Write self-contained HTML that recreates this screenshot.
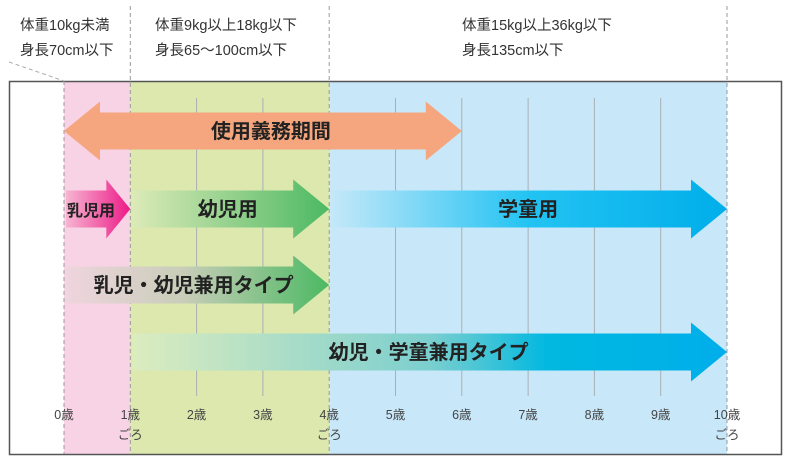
<!DOCTYPE html>
<html><head><meta charset="utf-8">
<style>
html,body{margin:0;padding:0;background:#fff;}
svg{display:block;font-family:"Liberation Sans","Noto Sans CJK JP",sans-serif;}
.lbl{font-size:14.5px;fill:#333;}
.ax{font-size:12.5px;fill:#444;}
.ar{font-weight:bold;fill:#222;}
</style></head><body>
<svg id="chart" width="792" height="465" viewBox="0 0 792 465">
<defs>
 <linearGradient id="gPink" x1="0" x2="1"><stop offset="0" stop-color="#f7b5d2"/><stop offset="1" stop-color="#ec1a87"/></linearGradient>
 <linearGradient id="gGreen" x1="0" x2="1"><stop offset="0" stop-color="#dceab8"/><stop offset="1" stop-color="#4cb963"/></linearGradient>
 <linearGradient id="gBlue" x1="0" x2="1"><stop offset="0" stop-color="#c4e8f9"/><stop offset="0.5" stop-color="#22c3f2"/><stop offset="1" stop-color="#00aeea"/></linearGradient>
 <linearGradient id="gCombo1" x1="0" x2="1"><stop offset="0" stop-color="#efd5de"/><stop offset="0.45" stop-color="#c8cdb8"/><stop offset="1" stop-color="#4cb963"/></linearGradient>
 <linearGradient id="gCombo2" x1="0" x2="1"><stop offset="0" stop-color="#dcecbf"/><stop offset="0.5" stop-color="#7ccfcf"/><stop offset="0.7" stop-color="#00b8e0"/><stop offset="1" stop-color="#00aeea"/></linearGradient>
</defs>
<g id="bands"></g>
<g id="grid"></g>
<rect x="9.5" y="81.5" width="772" height="373" fill="none" stroke="#555" stroke-width="1.5"/>
<g id="dashes"></g>
<line x1="9" y1="62" x2="64" y2="81" stroke="#aaa" stroke-dasharray="4,3"/>
<g id="arrows"></g>
<g id="axis"></g>
<g>
 <text class="lbl" x="20" y="30">体重10kg未満</text>
 <text class="lbl" x="20" y="55">身長70cm以下</text>
 <text class="lbl" x="155" y="30">体重9kg以上18kg以下</text>
 <text class="lbl" x="155" y="55">身長65～100cm以下</text>
 <text class="lbl" x="462" y="30">体重15kg以上36kg以下</text>
 <text class="lbl" x="462" y="55">身長135cm以下</text>
</g>
</svg>
<script>
const ages=[0,1,2,3,4,5,6,7,8,9,10];
const ageLabels=["0歳","1歳","2歳","3歳","4歳","5歳","6歳","7歳","8歳","9歳","10歳"];
const approxAges=[1,4,10];
const bandStart=[0,1,4];
const bandEnd=[1,4,10];
const bandColors=["#f8d3e5","#dce8ae","#c8e8fa"];
const arrowNames=["使用義務期間","乳児用","幼児用","学童用","乳児・幼児兼用タイプ","幼児・学童兼用タイプ"];
const arrowStart=[0,0,1,4,0,1];
const arrowEnd=[6,1,4,10,4,10];
const arrowRow=[0,1,1,1,2,3];
const NS="http://www.w3.org/2000/svg";
const X=a=>64+a*66.3;
const rowY=[131,209,285,352];
function mk(t,attrs,parent){const e=document.createElementNS(NS,t);for(const k in attrs)e.setAttribute(k,attrs[k]);parent.appendChild(e);return e;}
const bands=document.getElementById('bands');
for(let i=0;i<bandStart.length;i++){
 const r=mk('rect',{x:X(bandStart[i]),y:81,width:X(bandEnd[i])-X(bandStart[i]),height:373,fill:bandColors[i]},bands);
 
 
}
const grid=document.getElementById('grid');
ages.forEach(a=>{
 if(a===0||approxAges.includes(a))return;
 const l=mk('line',{x1:X(a),x2:X(a),y1:98,y2:396,stroke:'#a9b0b4','stroke-width':1},grid);
 
 
});
const dashes=document.getElementById('dashes');
[0].concat(approxAges).forEach(a=>{
 const l=mk('line',{x1:X(a),x2:X(a),y1:a===0?81:6,y2:454,stroke:'#999','stroke-dasharray':'4,3'},dashes);
 
 
});
const fills=["#f5a67e","url(#gPink)","url(#gGreen)","url(#gBlue)","url(#gCombo1)","url(#gCombo2)"];
const arrows=document.getElementById('arrows');
for(let i=0;i<arrowNames.length;i++){
 const x0=X(arrowStart[i]),x1=X(arrowEnd[i]),cy=rowY[arrowRow[i]];
 const bh=18.5,hh=29.5,hw=i===1?24:36;
 let d;
 if(i===0){
  d=`M${x0},${cy} L${x0+hw},${cy-hh} L${x0+hw},${cy-bh} L${x1-hw},${cy-bh} L${x1-hw},${cy-hh} L${x1},${cy} L${x1-hw},${cy+hh} L${x1-hw},${cy+bh} L${x0+hw},${cy+bh} L${x0+hw},${cy+hh} Z`;
 } else {
  d=`M${x0+2},${cy-bh} L${x1-hw},${cy-bh} L${x1-hw},${cy-hh} L${x1},${cy} L${x1-hw},${cy+hh} L${x1-hw},${cy+bh} L${x0+2},${cy+bh} Z`;
 }
 const p=mk('path',{d:d,fill:fills[i]},arrows);
 
 
 let tx=(x0+x1)/2, anchor='middle', fs=20;
 if(i===1){tx=x0+3;anchor='start';fs=16;}
 if(i===0){tx=x0+(x1-x0)*0.52;}
 if(i===2){tx=x0+(x1-x0)*0.49;}
 if(i===4){tx=x0+(x1-x0-hw)/2+15;}
 const t=mk('text',{x:tx,y:cy+7,'text-anchor':anchor,class:'ar','font-size':fs},arrows);
 t.textContent=arrowNames[i];
 
 
}
const axis=document.getElementById('axis');
ages.forEach((a,i)=>{
 const t=mk('text',{x:X(a),y:419,'text-anchor':'middle',class:'ax'},axis);
 t.textContent=ageLabels[i];
 
 
 if(approxAges.includes(a)){
  const g=mk('text',{x:X(a),y:439,'text-anchor':'middle',class:'ax'},axis);
  g.textContent='ごろ';
  
  
 }
});
</script>
</body></html>
